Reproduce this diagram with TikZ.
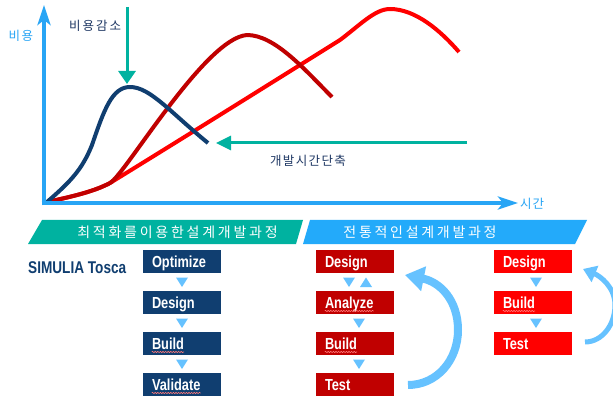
\documentclass[tikz,border=0pt]{standalone}
\usepackage{fontspec}
\setmainfont{Liberation Sans}
\newfontfamily\boxfont[FakeStretch=0.8]{Liberation Sans}
\newfontfamily\krfont{Noto Sans CJK KR}
\usetikzlibrary{arrows.meta,calc,decorations.pathmorphing}

\definecolor{axisblue}{RGB}{40,165,245}
\definecolor{tealc}{RGB}{0,178,160}
\definecolor{bannerblue}{RGB}{35,170,250}
\definecolor{navy}{RGB}{16,62,112}
\definecolor{navytext}{RGB}{31,56,100}
\definecolor{darkred}{RGB}{192,0,0}
\definecolor{brightred}{RGB}{255,0,0}
\definecolor{lightblue}{RGB}{102,194,255}
\definecolor{squigred}{RGB}{255,120,120}

% spread the characters of a word by a fixed gap
\newcommand\krspread[2]{\def\krgap{\hspace{#1}}\krspreadA#2\relax}
\def\krspreadA#1#2{#1\ifx\relax#2\else\krgap\expandafter\krspreadA\fi#2}

% small flow triangles between two stacked boxes
\newcommand\downtri[3][0]{\fill[lightblue] ($(#2.south)!.5!(#3.north)+(#1,0)$) ++(-6,-4.5) -- ++(12,0) -- ++(-6,9.5) -- cycle;}
\newcommand\uptri[3][0]{\fill[lightblue] ($(#2.south)!.5!(#3.north)+(#1,0)$) ++(-6,5) -- ++(12,0) -- ++(-6,-9.5) -- cycle;}

\tikzset{
  axis/.style={draw=axisblue, line width=4.5pt, -{Stealth[length=20pt,width=13pt,inset=5pt]}},
  axlabel/.style={text=axisblue, font=\krfont\fontsize{12.5}{12.5}\selectfont, inner sep=0},
  cost/.style={line width=4pt},
  tealarrow/.style={draw=tealc, line width=3pt},
  note/.style={text=navytext, font=\krfont\fontsize{12.5}{12.5}\selectfont, inner sep=0},
  bannertext/.style={text=white, font=\krfont\fontsize{14}{14}\selectfont, inner sep=0},
  flowbox/.style={minimum width=78pt, minimum height=23pt, inner sep=0},
  navybox/.style={flowbox, fill=navy},
  redbox/.style={flowbox, fill=darkred},
  brightbox/.style={flowbox, fill=brightred},
  boxtxt/.style={text=white, font=\boxfont\bfseries\fontsize{16}{16}\selectfont, inner sep=0, anchor=base west},
  squig/.style={draw=squigred, line width=0.6pt, decorate, decoration={snake, amplitude=0.7pt, segment length=2.6pt}},
  loop/.style={draw=lightblue, line width=8pt, -{Triangle[length=19pt,width=24pt]}},
  smallloop/.style={draw=lightblue, line width=5pt, -{Triangle[length=13pt,width=17pt]}},
}

\begin{document}
\begin{tikzpicture}[x=1pt, y=-1pt, line join=round]
\clip (0,0) rectangle (613,398);
\fill[white] (0,0) rectangle (613,398);

% ---- cost / time chart ----
\coordinate (O) at (44,203);
\coordinate (Ob) at (44,205.5);
\coordinate (ytop) at (44,5);
\coordinate (Ol) at (41.5,203);
\coordinate (xend) at (518,203);

% cost curves
\draw[cost, brightred] (47,202) .. controls (75,196) and (95,191) .. (110,183)
  .. controls (180,140) and (260,90) .. (340,40)
  .. controls (360,25) and (375,9) .. (390,9) .. controls (415,9) and (440,30) .. (459,52);
\draw[cost, darkred] (47,202) .. controls (75,196) and (95,191) .. (110,183)
  .. controls (125,175) and (205,38) .. (247,35) .. controls (275,35) and (305,70) .. (332,97);
\draw[cost, navy] (47,202) .. controls (70,182) and (82,170) .. (92,145)
  .. controls (104,110) and (112,87) .. (130,87) .. controls (150,87) and (170,112) .. (208,143);

\draw[axis] (Ob) -- (ytop);
\draw[axis] (Ol) -- (xend);
\node[axlabel] (ylab) at (21,36) {\krspread{1.5pt}{비용}};
\node[axlabel, anchor=west] (xlab) at (520,204) {\krspread{1pt}{시간}};

% cost reduction and shorter development time
\coordinate (cutTop) at (127,7);
\coordinate (cutTip) at (127,84);
\draw[tealarrow, -{Triangle[length=13pt,width=17pt]}] (cutTop) -- (cutTip);
\node[note] (cutlab) at (95,26) {\krspread{2pt}{비용감소}};

\coordinate (timeStart) at (467,143);
\coordinate (timeTip) at (216,143);
\draw[tealarrow, -{Triangle[length=15pt,width=14pt]}] (timeStart) -- (timeTip);
\node[note] (timelab) at (308,161) {\krspread{1.4pt}{개발시간단축}};

% ---- process banners ----
\fill[tealc] (28,244) -- (42,220) -- (303,220) -- (296,244) -- cycle;
\fill[bannerblue] (303,244) -- (310,220) -- (587,220) -- (575,244) -- cycle;
\node[bannertext] (optban) at (177.5,232) {\krspread{2.75pt}{최적화를이용한설계개발과정}};
\node[bannertext] (tradban) at (420,232) {\krspread{2.7pt}{전통적인설계개발과정}};

\node[text=navy, font=\boxfont\bfseries\fontsize{17}{17}\selectfont, inner sep=0, anchor=base west] (tosca) at (28,273) {SIMULIA Tosca};

% optimisation-driven flow
\node[navybox] (L1) at (182,261.5) {};
\node[navybox] (L2) at (182,302.5) {};
\node[navybox] (L3) at (182,343.5) {};
\node[navybox] (L4) at (182,384.5) {};
\node[boxtxt] (L1t) at ([xshift=9pt,yshift=-6pt]L1.west) {Optimize};
\node[boxtxt] (L2t) at ([xshift=9pt,yshift=-6pt]L2.west) {Design};
\node[boxtxt] (L3t) at ([xshift=9pt,yshift=-6pt]L3.west) {Build};
\node[boxtxt] (L4t) at ([xshift=9pt,yshift=-6pt]L4.west) {Validate};
\downtri{L1}{L2}
\downtri{L2}{L3}
\downtri{L3}{L4}

% traditional flow with analysis
\node[redbox] (M1) at (355,261.5) {};
\node[redbox] (M2) at (355,302.5) {};
\node[redbox] (M3) at (355,343.5) {};
\node[redbox] (M4) at (355,384.5) {};
\node[boxtxt] (M1t) at ([xshift=9pt,yshift=-6pt]M1.west) {Design};
\node[boxtxt] (M2t) at ([xshift=9pt,yshift=-6pt]M2.west) {Analyze};
\node[boxtxt] (M3t) at ([xshift=9pt,yshift=-6pt]M3.west) {Build};
\node[boxtxt] (M4t) at ([xshift=9pt,yshift=-6pt]M4.west) {Test};
\downtri[-6]{M1}{M2}
\uptri[11]{M1}{M2}
\downtri[4]{M2}{M3}
\downtri[4]{M3}{M4}

% traditional flow, build and test only
\node[brightbox] (R1) at (533,261.5) {};
\node[brightbox] (R2) at (533,302.5) {};
\node[brightbox] (R3) at (533,343.5) {};
\node[boxtxt] (R1t) at ([xshift=9pt,yshift=-6pt]R1.west) {Design};
\node[boxtxt] (R2t) at ([xshift=9pt,yshift=-6pt]R2.west) {Build};
\node[boxtxt] (R3t) at ([xshift=9pt,yshift=-6pt]R3.west) {Test};
\downtri[3]{R1}{R2}
\downtri[3]{R2}{R3}

% spell-check squiggles
\foreach \t in {L3t,L4t,M2t,M3t,R2t}
  \draw[squig] ([yshift=-2.5pt]\t.base west) -- ([yshift=-2.5pt]\t.base east);

% iteration loops
\coordinate (loopA) at (408,385);
\coordinate (loopB) at (405,275);
\draw[loop] (loopA) .. controls (437,385) and (458,360) .. (458,330)
  .. controls (458,300) and (440,282) .. (loopB);
\coordinate (sloopA) at (585,342);
\coordinate (sloopB) at (583,269);
\draw[smallloop] (sloopA) .. controls (602,342) and (615,325) .. (615,305)
  .. controls (615,287) and (600,276) .. (sloopB);
\end{tikzpicture}
\end{document}
